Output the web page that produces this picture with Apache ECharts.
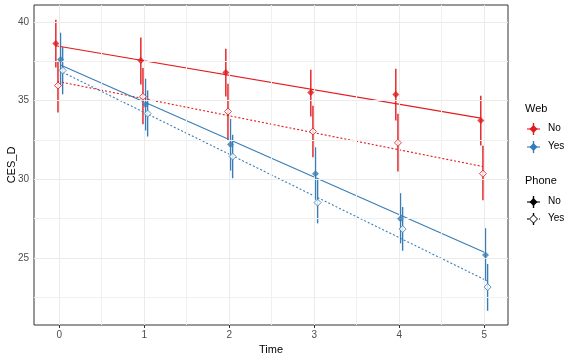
<!DOCTYPE html>
<html>
<head>
<meta charset="utf-8">
<script src="https://cdn.jsdelivr.net/npm/echarts@6/dist/echarts.min.js"></script>
<style>html,body{margin:0;padding:0;background:#fff}#c{width:576px;height:360px}</style>
</head>
<body>
<div id="c"></div>
<script>
// ---- data ----
var times = [0, 1, 2, 3, 4, 5];
var xTicks = [0, 1, 2, 3, 4, 5];
var yTicks = [25, 30, 35, 40];
var yMinorLines = [22.5, 27.5, 32.5, 37.5];
var xMinorLines = [0.5, 1.5, 2.5, 3.5, 4.5];

// Web = No, Phone = No
var noNoMean = [38.64, 37.56, 36.79, 35.52, 35.39, 33.74];
var noNoLo   = [37.10, 36.03, 35.26, 33.99, 33.74, 32.15];
var noNoHi   = [40.15, 39.02, 38.30, 36.96, 37.03, 35.31];
// Web = No, Phone = Yes
var noYesMean = [35.96, 35.25, 34.31, 33.04, 32.32, 30.36];
var noYesLo   = [34.25, 33.50, 32.50, 31.40, 30.49, 28.67];
var noYesHi   = [37.50, 37.07, 36.07, 34.67, 34.16, 32.13];
// Web = Yes, Phone = No
var yesNoMean = [37.62, 34.76, 32.21, 30.36, 27.50, 25.19];
var yesNoLo   = [35.95, 33.10, 30.55, 28.70, 25.93, 23.55];
var yesNoHi   = [39.32, 36.40, 33.84, 32.04, 29.12, 26.89];
// Web = Yes, Phone = Yes
var yesYesMean = [36.92, 34.18, 31.45, 28.52, 26.84, 23.15];
var yesYesLo   = [35.40, 32.72, 30.07, 27.20, 25.46, 21.64];
var yesYesHi   = [38.40, 35.65, 32.83, 29.96, 28.24, 24.62];

// fitted lines: value at first and last time
var fitTimes = [0, 5];
var fitNoNo   = [38.49, 33.89];
var fitNoYes  = [36.22, 30.81];
var fitYesNo  = [37.26, 25.33];
var fitYesYes = [36.80, 23.53];

// ---- styling ----
var RED = '#E41A1C', BLUE = '#377EB8';
var FONT = 'Liberation Sans, Arial, sans-serif';
var groups = [
  {mean: noNoMean,  lo: noNoLo,  hi: noNoHi,  fit: fitNoNo,  color: RED,  open: false, dodge: -0.04},
  {mean: noYesMean, lo: noYesLo, hi: noYesHi, fit: fitNoYes, color: RED,  open: true,  dodge: -0.015},
  {mean: yesNoMean, lo: yesNoLo, hi: yesNoHi, fit: fitYesNo, color: BLUE, open: false, dodge: 0.015},
  {mean: yesYesMean,lo: yesYesLo,hi: yesYesHi,fit: fitYesYes,color: BLUE, open: true,  dodge: 0.04}
];

var series = [];
// gridlines
var gridLines = [];
yTicks.forEach(function(v){ gridLines.push({yAxis: v, lineStyle:{color:'#EBEBEB', width:1, type:'solid'}}); });
yMinorLines.forEach(function(v){ gridLines.push({yAxis: v, lineStyle:{color:'#F0F0F0', width:1, type:'solid'}}); });
xTicks.forEach(function(v){ gridLines.push({xAxis: v, lineStyle:{color:'#EBEBEB', width:1, type:'solid'}}); });
xMinorLines.forEach(function(v){ gridLines.push({xAxis: v, lineStyle:{color:'#F0F0F0', width:1, type:'solid'}}); });
series.push({
  type: 'line', data: [], z: 1, silent: true,
  markLine: {silent: true, symbol: ['none','none'], label: {show: false}, animation: false, data: gridLines}
});

groups.forEach(function(g){
  // error bars
  series.push({
    type: 'custom', z: 3, silent: true,
    data: times.map(function(t, i){ return [t + g.dodge, g.lo[i], g.hi[i]]; }),
    renderItem: function(params, api){
      var a = api.coord([api.value(0), api.value(1)]);
      var b = api.coord([api.value(0), api.value(2)]);
      return {type: 'line', shape: {x1: a[0], y1: a[1], x2: b[0], y2: b[1]},
              style: {stroke: g.color, lineWidth: 1.4}};
    }
  });
  // fitted line
  series.push({
    type: 'line', z: 4, silent: true, symbol: 'none',
    data: fitTimes.map(function(t, i){ return [t + g.dodge, g.fit[i]]; }),
    lineStyle: {color: g.color, width: 1.1, type: g.open ? [2, 2] : 'solid'}
  });
  // points
  series.push({
    type: 'scatter', z: 5, silent: true,
    symbol: 'diamond', symbolSize: g.open ? 7 : 7,
    data: times.map(function(t, i){ return [t + g.dodge, g.mean[i]]; }),
    itemStyle: g.open ? {color: '#fff', borderColor: g.color, borderWidth: 1} : {color: g.color}
  });
});

// legend drawn as graphic
var legend = [];
function txt(x, y, s, size){
  legend.push({type:'text', left: x, top: y - size/2 - 1, style:{text: s, fill:'#000', font: size + 'px ' + FONT}});
}
function key(y, color, open, dashed){
  legend.push({type:'line', shape:{x1:527, y1:y, x2:540, y2:y}, style:{stroke:color, lineWidth:1.1, lineDash: dashed ? [2,2] : null}});
  legend.push({type:'line', shape:{x1:533.5, y1:y-6, x2:533.5, y2:y+6}, style:{stroke:color, lineWidth:1.4}});
  legend.push({type:'polygon', shape:{points:[[533.5,y-4],[537.5,y],[533.5,y+4],[529.5,y]]},
    style: open ? {fill:'#fff', stroke:color, lineWidth:1} : {fill:color}});
}
txt(525, 110, 'Web', 11);
key(129, RED, false, false); txt(548, 129, 'No', 10);
key(147, BLUE, false, false); txt(548, 147, 'Yes', 10);
txt(525, 182, 'Phone', 11);
key(202, '#000', false, false); txt(548, 202, 'No', 10);
key(219, '#000', true, true); txt(548, 219, 'Yes', 10);

var chart = echarts.init(document.getElementById('c'), null, {renderer: 'canvas'});
chart.setOption({
  animation: false,
  backgroundColor: '#fff',
  textStyle: {fontFamily: FONT},
  grid: {left: 34, top: 5, right: 68, bottom: 35, show: true, borderColor: '#333333', borderWidth: 1, backgroundColor: 'transparent', containLabel: false, outerBoundsMode: 'none'},
  xAxis: {
    type: 'value', min: -0.297, max: 5.28,
    name: 'Time', nameLocation: 'middle', nameGap: 19, nameMoveOverlap: false,
    nameTextStyle: {color: '#000', fontSize: 11, fontFamily: FONT},
    axisLine: {show: false},
    axisTick: {show: true, customValues: xTicks, length: 3, lineStyle: {color: '#333333'}},
    axisLabel: {customValues: xTicks, color: '#4D4D4D', fontSize: 10, margin: 5, fontFamily: FONT},
    splitLine: {show: false}
  },
  yAxis: {
    type: 'value', min: 20.74, max: 41.08,
    name: 'CES_D', nameLocation: 'middle', nameGap: 17, nameRotate: 90, nameMoveOverlap: false,
    nameTextStyle: {color: '#000', fontSize: 11, fontFamily: FONT},
    axisLine: {show: false},
    axisTick: {show: true, customValues: yTicks, length: 3, lineStyle: {color: '#333333'}},
    axisLabel: {customValues: yTicks, color: '#4D4D4D', fontSize: 10, margin: 5, fontFamily: FONT},
    splitLine: {show: false}
  },
  graphic: legend,
  series: series
});
</script>
</body>
</html>
